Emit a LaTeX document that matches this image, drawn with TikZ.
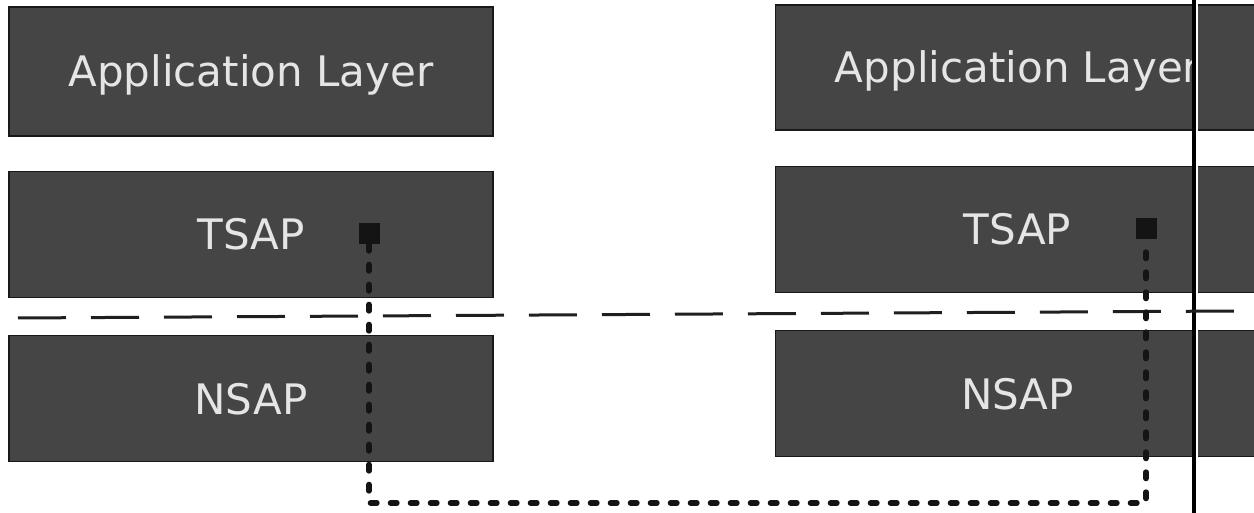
\documentclass[tikz,border=0pt]{standalone}
\usepackage{fontspec}
\setmainfont{DejaVu Sans}

\begin{document}
\begin{tikzpicture}[x=1pt, y=-1pt,
  layerbox/.style={draw=black!90, line width=1.5pt, fill=black!73, minimum width=484pt,
    minimum height=126pt, inner sep=0pt, text=white!90!black, text height=31pt, text depth=0pt,
    font=\fontsize{42}{50}\selectfont},
  sapdot/.style={fill=black!92, minimum size=21pt, inner sep=0pt},
  sapline/.style={line width=6pt, line cap=round, dash pattern=on 6pt off 14pt, black!92},
  boundary/.style={line width=3pt, black!88, dash pattern=on 48pt off 25pt}]

  % Page
  \clip (0,0) rectangle (1254,513);
  \fill[white] (0,0) rectangle (1254,513);

  % Left stack
  \node[layerbox, minimum height=129pt] (appL) at (251,71.5) {Application Layer};
  \node[layerbox] (tsapL) at (251,234.5) {TSAP};
  \node[layerbox] (nsapL) at (251,398.5) {NSAP};

  % Right stack (cut by the page edge)
  \node[layerbox, minimum height=125pt] (appR) at (1017.5,67.5) {};
  \begin{scope}
    \clip (776,0) rectangle (1193,140);
    \node[layerbox, draw=none, fill=none] at (appR.center) {Application Layer};
  \end{scope}
  \node[layerbox] (tsapR) at (1017.5,229.5) {TSAP};
  \node[layerbox] (nsapR) at (1017.5,393.5) {NSAP};

  % Vertical rule
  \draw[white, line width=2pt] (1197,0) -- (1197,513);
  \draw[black, line width=3.5pt] (1194,0) -- (1194,513);

  % Layer boundary
  \draw[boundary] (18,318) -- (1234,311);

  % Access points and their link
  \node[sapdot] (sqL) at (369,234) {};
  \node[sapdot] (sqR) at (1146,228.5) {};
  \coordinate (bend) at (sqR |- 0,503);
  \draw[sapline] (sqL.south) |- (bend) -- (sqR.south);

\end{tikzpicture}
\end{document}
